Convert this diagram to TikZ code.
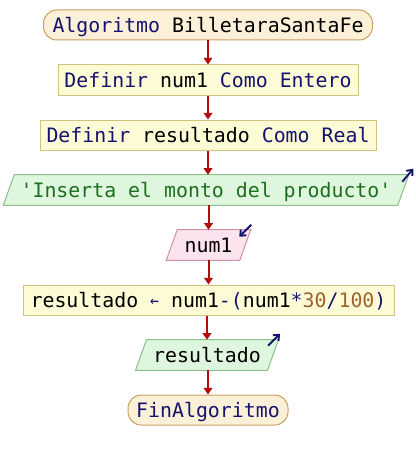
\documentclass[tikz,border=0pt]{standalone}
\usepackage{fontspec}
\newfontfamily\codefont{DejaVu Sans Mono}
\usetikzlibrary{arrows.meta,calc,backgrounds}
\definecolor{kw}{HTML}{14146E}
\definecolor{strc}{HTML}{1F6E1F}
\definecolor{numc}{HTML}{A0622D}
\definecolor{termfill}{HTML}{FDF0D8}
\definecolor{termdraw}{HTML}{C8A060}
\definecolor{boxfill}{HTML}{FDFAD6}
\definecolor{boxdraw}{HTML}{D2C27E}
\definecolor{infill}{HTML}{FCE4EE}
\definecolor{indraw}{HTML}{D090A8}
\definecolor{outfill}{HTML}{DEF5DE}
\definecolor{outdraw}{HTML}{8CC08C}
\definecolor{flowc}{HTML}{B40A0A}
\definecolor{ioarrow}{HTML}{14146E}
\begin{document}
\begin{tikzpicture}[x=0.75pt,y=-0.75pt,
  base/.style={font=\codefont\fontsize{14.9}{18}\selectfont, inner sep=0pt, minimum height=22.5pt, anchor=center, text depth=0pt},
  term/.style={base, draw=termdraw, fill=termfill, line width=0.75pt, rounded corners=10pt, minimum width=#1*0.75pt},
  procbox/.style={base, draw=boxdraw, fill=boxfill, line width=0.75pt, minimum width=#1*0.75pt},
  pgram/.style={base, minimum width=#1*0.75pt},
  inshape/.style={draw=indraw, fill=infill, line width=0.75pt},
  outshape/.style={draw=outdraw, fill=outfill, line width=0.75pt},
  flow/.style={draw=flowc, line width=1.5pt, -{Triangle[length=5pt,width=6.5pt]}},
  ioarr/.style={draw=ioarrow, line width=1.4pt, -{Straight Barb[length=3.5pt,width=6pt]}}
]
\useasboundingbox (0,0) rectangle (416,460);

\node[term=329] (start) at (208,25) {{\color{kw}Algoritmo} BilletaraSantaFe};
\node[procbox=300] (d1) at (208,80) {\color{kw}Definir {\color{black}num1} Como Entero};
\node[procbox=336] (d2) at (208,135) {\color{kw}Definir {\color{black}resultado} Como Real};
\node[pgram=394] (wr1) at (206,190) {\color{strc}'Inserta el monto del producto'};
\node[pgram=73] (rd) at (208.5,245) {num1};
\node[procbox=371] (asg) at (208.5,300) {resultado {\color{kw}\raisebox{0.05em}{\scalebox{0.75}[0.85]{←}}} num1{\color{kw}-(}num1{\color{kw}*}{\color{numc}30}{\color{kw}/}{\color{numc}100}{\color{kw})}};
\node[pgram=131.5] (wr2) at (207,355) {resultado};
\node[term=160] (fin) at (208,410) {\color{kw}FinAlgoritmo};

\begin{scope}[on background layer]
  \fill[white] (0,0) rectangle (416,460);
  \path[outshape] ([xshift=-4.1pt]wr1.south west) -- ([xshift=4.1pt]wr1.north west) -- ([xshift=4.1pt]wr1.north east) -- ([xshift=-4.1pt]wr1.south east) -- cycle;
  \path[inshape] ([xshift=-4.1pt]rd.south west) -- ([xshift=4.1pt]rd.north west) -- ([xshift=4.1pt]rd.north east) -- ([xshift=-4.1pt]rd.south east) -- cycle;
  \path[outshape] ([xshift=-4.1pt]wr2.south west) -- ([xshift=4.1pt]wr2.north west) -- ([xshift=4.1pt]wr2.north east) -- ([xshift=-4.1pt]wr2.south east) -- cycle;
\end{scope}

\coordinate (a1s) at ($(wr1.north east)+(-1,7)$);
\coordinate (a1e) at ($(wr1.north east)+(10,-6)$);
\coordinate (a2s) at ($(rd.north east)+(6,-5)$);
\coordinate (a2e) at ($(rd.north east)+(-6,7)$);
\coordinate (a3s) at ($(wr2.north east)+(-5,6)$);
\coordinate (a3e) at ($(wr2.north east)+(7,-6)$);
\draw[ioarr] (a1s) -- (a1e);
\draw[ioarr] (a2s) -- (a2e);
\draw[ioarr] (a3s) -- (a3e);

\draw[flow] (start.south) -- (d1.north);
\draw[flow] (d1.south) -- (d2.north);
\draw[flow] (d2.south) -- (d2.south |- wr1.north);
\draw[flow] (wr1.south -| rd.north) -- (rd.north);
\draw[flow] (rd.south) -- (asg.north);
\draw[flow] (asg.south -| wr2.north) -- (wr2.north);
\draw[flow] (wr2.south -| fin.north) -- (fin.north);
\end{tikzpicture}
\end{document}
